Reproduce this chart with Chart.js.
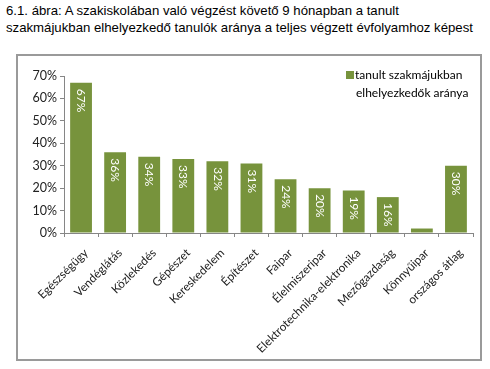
<!DOCTYPE html>
<html>
<head>
<meta charset="utf-8">
<script src="https://cdn.jsdelivr.net/npm/chart.js@4.4.1/dist/chart.umd.min.js"></script>
<style>
  html, body { margin: 0; padding: 0; background: #fff; width: 490px; height: 369px; overflow: hidden; }
  #title { position: absolute; left: 6px; top: 2px; font-family: "Liberation Sans", Arial, sans-serif; font-size: 13.2px; line-height: 17px; color: #000; white-space: nowrap; }
  #box { position: absolute; left: 16px; top: 54px; width: 462px; height: 303px; border: 2px solid #9a9a9a; background: #fff; }
  #wrap { position: absolute; left: 0; top: 0; width: 462px; height: 303px; }
</style>
</head>
<body>
<div id="title">6.1. ábra: A szakiskolában való végzést követő 9 hónapban a tanult<br>szakmájukban elhelyezkedő tanulók aránya a teljes végzett évfolyamhoz képest</div>
<div id="box"><div id="wrap"><canvas id="c"></canvas></div></div>
<script>
const categories = ["Egészségügy", "Vendéglátás", "Közlekedés", "Gépészet", "Kereskedelem", "Építészet", "Faipar", "Élelmiszeripar", "Elektrotechnika-elektronika", "Mezőgazdaság", "Könnyűipar", "országos átlag"];
const values = [67, 36, 34, 33, 32, 31, 24, 20, 19, 16, 2, 30];
const valueLabels = ["67%", "36%", "34%", "33%", "32%", "31%", "24%", "20%", "19%", "16%", "", "30%"];
const seriesName = ["tanult szakmájukban", "elhelyezkedők aránya"];
const yTicks = [0, 10, 20, 30, 40, 50, 60, 70];

const barColor = "#77933C";
const textFont = "Lato, 'Open Sans', sans-serif";

const labelPlugin = {
  id: "barLabels",
  afterDatasetsDraw(chart) {
    const ctx = chart.ctx;
    const meta = chart.getDatasetMeta(0);
    ctx.save();
    ctx.fillStyle = "#ffffff";
    ctx.font = "12px " + textFont;
    ctx.textAlign = "left";
    ctx.textBaseline = "middle";
    meta.data.forEach((el, i) => {
      const t = valueLabels[i];
      if (!t) return;
      ctx.save();
      ctx.translate(el.x, el.y + 6);
      ctx.rotate(Math.PI / 2);
      ctx.fillText(t, 0, 0);
      ctx.restore();
    });
    ctx.restore();
  }
};

const legendPlugin = {
  id: "customLegend",
  afterDraw(chart) {
    const ctx = chart.ctx;
    const x = 328, y = 19;
    ctx.save();
    ctx.fillStyle = barColor;
    ctx.fillRect(x, y - 4, 8, 8);
    ctx.fillStyle = "#000";
    ctx.font = "12px " + textFont;
    ctx.textAlign = "left";
    ctx.textBaseline = "middle";
    ctx.fillText(seriesName[0], x + 9, y);
    ctx.fillText(seriesName[1], x + 10, y + 18);
    ctx.restore();
  }
};

new Chart(document.getElementById("c"), {
  type: "bar",
  data: {
    labels: categories,
    datasets: [{
      label: seriesName.join(" "),
      data: values,
      backgroundColor: barColor,
      borderWidth: 0,
      categoryPercentage: 0.64,
      barPercentage: 1.0
    }]
  },
  options: {
    responsive: true,
    maintainAspectRatio: false,
    animation: false,
    devicePixelRatio: 1,
    layout: { padding: { left: 0, right: 7, top: 20, bottom: 0 } },
    plugins: { legend: { display: false }, tooltip: { enabled: false }, title: { display: false } },
    scales: {
      y: {
        min: 0, max: 70,
        afterBuildTicks(scale) { scale.ticks = yTicks.map(v => ({ value: v })); },
        afterFit(scale) { scale.width = 46; },
        ticks: { callback: v => v + "%", color: "#222", font: { family: textFont, size: 12.5 }, padding: 3 },
        grid: { drawOnChartArea: false, drawTicks: true, tickLength: 4, color: "#868686" },
        border: { display: true, color: "#868686", width: 1 }
      },
      x: {
        afterFit(scale) { scale.height = 126; },
        ticks: { color: "#222", font: { family: textFont, size: 11.7 }, minRotation: 45, maxRotation: 45, padding: 9, labelOffset: 5, autoSkip: false },
        grid: { drawOnChartArea: false, drawTicks: true, tickLength: 4, color: "#868686", offset: true },
        border: { display: true, color: "#868686", width: 1 }
      }
    }
  },
  plugins: [labelPlugin, legendPlugin]
});
</script>
</body>
</html>
